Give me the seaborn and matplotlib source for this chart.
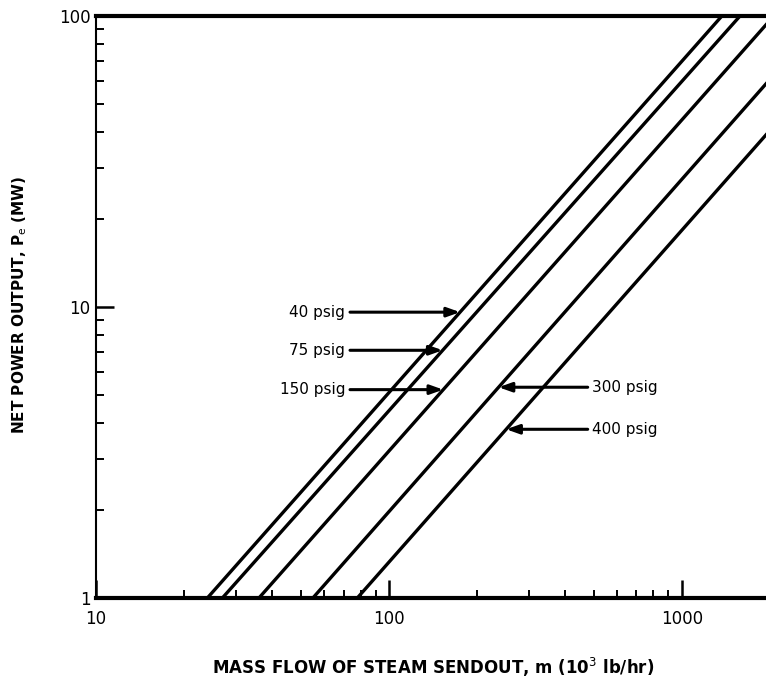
"""
Net power output against mass flow of steam sendout for five
steam pressures, drawn on log-log axes.
"""
import numpy as np
import pandas as pd
import matplotlib
matplotlib.use("Agg")
import matplotlib.pyplot as plt
import matplotlib.ticker as mticker
import seaborn as sns

# steam pressures of the five lines
pressures = ["40 psig", "75 psig", "150 psig", "300 psig", "400 psig"]
# mass flow (10^3 lb/hr) where each line crosses 1 MW and 100 MW
flow_at_1mw = [24, 27, 36, 55, 78]
flow_at_100mw = [1370, 1580, 2060, 3100, 4420]
power_ends = [1, 100]
# power (MW) where each label arrow meets its line
arrow_power = [9.6, 7.1, 5.2, 5.3, 3.8]
label_side = ["left", "left", "left", "right", "right"]


def build_frame():
    rows = []
    for name, lo, hi in zip(pressures, flow_at_1mw, flow_at_100mw):
        for flow, power in zip([lo, hi], power_ends):
            rows.append({"pressure": name, "flow": flow, "power": power})
    return pd.DataFrame(rows)


def flow_on_line(i, power):
    # position along the straight log-log line at the given power
    lo, hi = np.log10(flow_at_1mw[i]), np.log10(flow_at_100mw[i])
    frac = np.log10(power) / np.log10(power_ends[1])
    return 10 ** (lo + frac * (hi - lo))


def main():
    sns.set_style("ticks", {"text.color": "black", "axes.labelcolor": "black",
                            "xtick.color": "black", "ytick.color": "black",
                            "axes.edgecolor": "black"})
    plt.rcParams["font.family"] = ["DejaVu Sans"]
    plt.rcParams["mathtext.fontset"] = "dejavusans"

    df = build_frame()
    fig = plt.figure(figsize=(7.66, 6.83), dpi=100)
    ax = fig.add_axes([96 / 766, 85 / 683, 674 / 766, 582 / 683])
    ax.set_xscale("log")
    ax.set_yscale("log")

    sns.lineplot(data=df, x="flow", y="power", hue="pressure",
                 palette=["black"] * len(pressures), estimator=None,
                 legend=False, lw=2.4, ax=ax)

    # label arrows
    for i, name in enumerate(pressures):
        p = arrow_power[i]
        tip = flow_on_line(i, p)
        if label_side[i] == "left":
            xt, ha = 71, "right"
        else:
            xt, ha = 495, "left"
        ax.annotate(name, xy=(tip, p), xytext=(xt, p), ha=ha, va="center",
                    fontsize=11, color="black",
                    arrowprops=dict(arrowstyle="-|>,head_length=0.7,head_width=0.25",
                                    color="black", lw=2.2, shrinkA=1, shrinkB=0))

    ax.set_xlim(10, 2000)
    ax.set_ylim(1, 100)
    fmt = mticker.FuncFormatter(lambda v, pos: "{:g}".format(v))
    ax.xaxis.set_major_formatter(fmt)
    ax.yaxis.set_major_formatter(fmt)
    ax.xaxis.set_minor_formatter(mticker.NullFormatter())
    ax.yaxis.set_minor_formatter(mticker.NullFormatter())
    ax.tick_params(which="major", direction="in", length=13, width=1.8,
                   labelsize=12, colors="black")
    ax.tick_params(axis="x", which="major", pad=9)
    ax.tick_params(axis="y", which="major", pad=4)
    ax.tick_params(which="minor", direction="in", length=6, width=1.4,
                   colors="black")

    ax.spines["right"].set_visible(False)
    ax.spines["top"].set_linewidth(3)
    ax.spines["bottom"].set_linewidth(3)
    ax.spines["left"].set_linewidth(1.5)

    ax.set_xlabel("MASS FLOW OF STEAM SENDOUT, m (10$^3$ lb/hr)",
                  fontsize=12, fontweight="bold", color="black")
    ax.set_ylabel("NET POWER OUTPUT, P$_\\mathrm{e}$ (MW)", fontsize=11,
                  fontweight="bold", color="black")
    ax.xaxis.set_label_coords(0.5, -0.100)
    ax.yaxis.set_label_coords(-0.100, 0.503)

    fig.savefig("out.png", dpi=100)


if __name__ == '__main__':
    main()
